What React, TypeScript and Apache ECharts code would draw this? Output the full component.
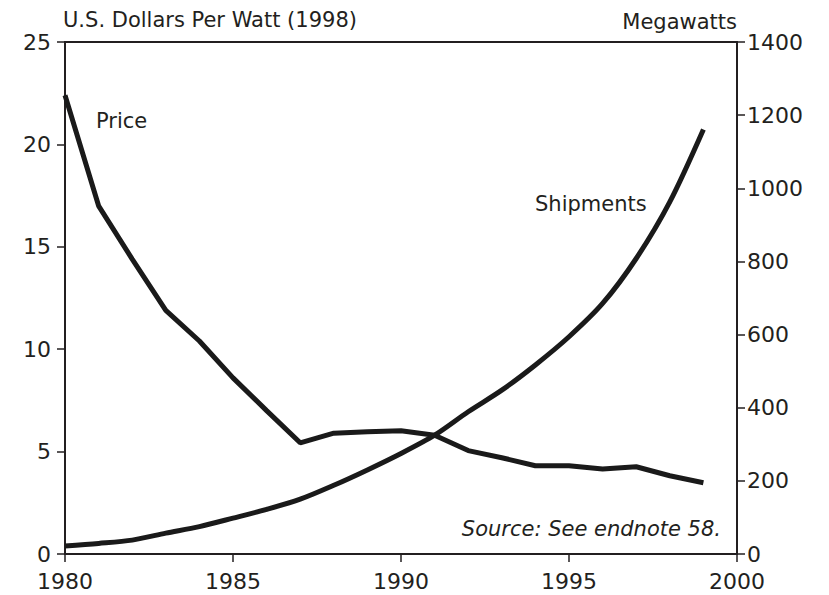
import React, { useEffect, useRef } from "react";
import * as echarts from "echarts";

const years = [1980, 1981, 1982, 1983, 1984, 1985, 1986, 1987, 1988, 1989, 1990, 1991, 1992, 1993, 1994, 1995, 1996, 1997, 1998, 1999];
const price = [22.4, 17.0, 14.4, 11.9, 10.4, 8.6, 7.0, 5.43, 5.9, 5.97, 6.02, 5.8, 5.05, 4.7, 4.31, 4.31, 4.15, 4.26, 3.82, 3.48];
const shipments = [22, 29, 38, 57, 75, 98, 122, 150, 188, 230, 275, 325, 389, 448, 517, 594, 685, 808, 963, 1161];

const leftTitle = "U.S. Dollars Per Watt (1998)";
const rightTitle = "Megawatts";
const priceLabel = "Price";
const shipLabel = "Shipments";
const sourceNote = "Source: See endnote 58.";

const INK = "#231f20";
const FONT = "'DejaVu Sans', 'Open Sans', sans-serif";

export default function App() {
  const ref = useRef<HTMLDivElement>(null);
  useEffect(() => {
    document.body.style.margin = "0";
    const chart = echarts.init(ref.current!, undefined, { renderer: "svg" });
    const axisLabel = { color: INK, fontFamily: FONT, fontSize: 22 };
    chart.setOption({
      animation: false,
      backgroundColor: "#fff",
      grid: { left: 65, right: 92, top: 42, bottom: 41, show: true, borderColor: INK, borderWidth: 2 },
      xAxis: {
        type: "value", min: 1980, max: 2000, interval: 5,
        axisLine: { show: true, lineStyle: { color: INK, width: 2 } },
        axisTick: { show: true, length: 8, lineStyle: { color: INK, width: 1.5 } },
        axisLabel: { ...axisLabel, margin: 16, formatter: (v: number) => String(v) },
        splitLine: { show: false },
      },
      yAxis: [
        {
          type: "value", min: 0, max: 25, interval: 5, position: "left",
          axisLine: { show: true, lineStyle: { color: INK, width: 2 } },
          axisTick: { show: true, length: 8, lineStyle: { color: INK, width: 1.5 } },
          axisLabel: { ...axisLabel, margin: 14, formatter: (v: number) => String(v) },
          splitLine: { show: false },
        },
        {
          type: "value", min: 0, max: 1400, interval: 200, position: "right",
          axisLine: { show: true, lineStyle: { color: INK, width: 2 } },
          axisTick: { show: true, length: 8, lineStyle: { color: INK, width: 1.5 } },
          axisLabel: { ...axisLabel, margin: 10, formatter: (v: number) => String(v) },
          splitLine: { show: false },
        },
      ],
      series: [
        {
          type: "line", name: priceLabel, yAxisIndex: 0, symbol: "none",
          lineStyle: { color: "#1a1a1a", width: 5 },
          data: years.map((y, i) => [y, price[i]]),
        },
        {
          type: "line", name: shipLabel, yAxisIndex: 1, symbol: "none", smooth: 0.3,
          lineStyle: { color: "#1a1a1a", width: 5 },
          data: years.map((y, i) => [y, shipments[i]]),
        },
      ],
      graphic: [
        { type: "text", left: 63, top: 9, style: { text: leftTitle, fill: INK, font: `21px ${FONT}` } },
        { type: "text", right: 92, top: 11, style: { text: rightTitle, fill: INK, font: `21px ${FONT}` } },
        { type: "text", left: 96, top: 110, style: { text: priceLabel, fill: INK, font: `21px ${FONT}` } },
        { type: "text", left: 535, top: 193, style: { text: shipLabel, fill: INK, font: `21px ${FONT}` } },
        { type: "text", right: 108, top: 518, style: { text: sourceNote, fill: INK, font: `italic 21px ${FONT}` } },
      ],
    });
    return () => chart.dispose();
  }, []);
  return <div ref={ref} style={{ width: 829, height: 595 }} />;
}
